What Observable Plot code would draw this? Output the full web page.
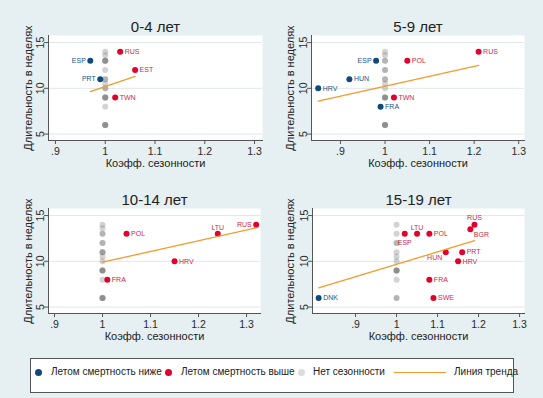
<!DOCTYPE html>
<html><head><meta charset="utf-8">
<script src="https://cdn.jsdelivr.net/npm/d3@7"></script>
<script src="https://cdn.jsdelivr.net/npm/@observablehq/plot@0.6"></script>
<style>
html,body{margin:0;padding:0;background:#e6eff1;}
#wrap{position:relative;width:543px;height:398px;overflow:hidden;font-family:"Liberation Sans",Arial,sans-serif;background:#e6eff1;}
.panel{position:absolute;}
.panel svg{overflow:visible;}
#legend{position:absolute;left:30px;top:358px;width:482px;height:33px;border:1px solid #555;background:#fff;}
#legend .it{position:absolute;top:13px;font-size:10px;line-height:10px;color:#222;transform:translateY(-50%);white-space:nowrap;}
#legend .dot{position:absolute;width:7px;height:7px;border-radius:50%;top:10px;}
#legend .ln{position:absolute;height:1.5px;top:12.5px;background:#f39a2a;}
</style></head><body><div id="wrap"></div>
<script>
// ---------- data ----------
const xTicks = [0.9, 1, 1.1, 1.2, 1.3];
const yTicks = [5, 10, 15];
const xTitle = "Коэфф. сезонности";
const yTitle = "Длительность в неделях";
const panelTitles = ["0-4 лет", "5-9 лет", "10-14 лет", "15-19 лет"];
const legendLabels = ["Летом смертность ниже", "Летом смертность выше", "Нет сезонности", "Линия тренда"];
const noSeasonCoef = 1;

// 0-4
const a0Countries = ["ESP", "PRT", "RUS", "EST", "TWN"];
const a0Coef = [0.97, 0.99, 1.03, 1.06, 1.02];
const a0Weeks = [13, 11, 14, 12, 9];
const a0Group = ["low", "low", "high", "high", "high"];
const a0NoSeason = [14, 13.6, 13, 13, 13, 13, 12, 11, 11, 10.5, 10, 10, 9, 9, 9, 9, 8, 6, 6, 6, 6];
const a0TrendCoef = [0.97, 1.06];
const a0TrendWeeks = [9.65, 11.3];

// 5-9
const a1Countries = ["HRV", "HUN", "ESP", "FRA", "TWN", "POL", "RUS"];
const a1Coef = [0.85, 0.92, 0.98, 0.99, 1.02, 1.05, 1.21];
const a1Weeks = [10, 11, 13, 8, 9, 13, 14];
const a1Group = ["low", "low", "low", "low", "high", "high", "high"];
const a1NoSeason = [14, 13.6, 13, 13, 12, 12, 11, 11, 10.5, 10, 9, 9, 9, 9, 6, 6, 6, 6];
const a1TrendCoef = [0.85, 1.21];
const a1TrendWeeks = [8.6, 12.5];

// 10-14
const a2Countries = ["FRA", "POL", "HRV", "LTU", "RUS"];
const a2Coef = [1.01, 1.05, 1.15, 1.24, 1.32];
const a2Weeks = [8, 13, 10, 13, 14];
const a2Group = ["high", "high", "high", "high", "high"];
const a2NoSeason = [14, 13.6, 13, 13, 12, 12, 11, 11, 11, 10.5, 10, 9, 9, 9, 9, 8, 6, 6, 6, 6];
const a2TrendCoef = [1.0, 1.32];
const a2TrendWeeks = [9.9, 13.65];

// 15-19
const a3Countries = ["DNK", "ESP", "LTU", "POL", "FRA", "SWE", "HUN", "HRV", "PRT", "BGR", "RUS"];
const a3Coef = [0.81, 1.02, 1.05, 1.08, 1.08, 1.09, 1.12, 1.15, 1.16, 1.18, 1.19];
const a3Weeks = [6, 13, 13, 13, 8, 6, 11, 10, 11, 13.5, 14];
const a3Group = ["low", "high", "high", "high", "high", "high", "high", "high", "high", "high", "high"];
const a3NoSeason = [14, 13, 12, 12, 11, 10.5, 10, 9, 9, 9, 9, 8, 6, 6];
const a3TrendCoef = [0.81, 1.19];
const a3TrendWeeks = [7.1, 12.25];

// ---------- styles / layout ----------
const colBlue = "#0f4a7a", colRed = "#e3002b", colGray = "#6e6e6e", colTrend = "#f39a2a";
const labBlue = "#1d5286", labRed = "#cc2a48";
const labelPos = {
  "0:ESP": "left", "0:PRT": "left",
  "1:ESP": "left",
  "2:LTU": "above", "2:RUS": "left",
  "3:LTU": "above", "3:RUS": "above", "3:ESP": "below", "3:BGR": "belowright", "3:HUN": "belowleft"
};
const posStyle = {
  right: {dx: 4.5, dy: 0, textAnchor: "start"},
  left: {dx: -4.5, dy: 0, textAnchor: "end"},
  above: {dx: 0, dy: -6.5, textAnchor: "middle"},
  below: {dx: 0, dy: 8.5, textAnchor: "middle"},
  belowright: {dx: 3.5, dy: 5.5, textAnchor: "start"},
  belowleft: {dx: -3.5, dy: 6, textAnchor: "end"}
};
const panels = [
  {key: 0, countries: a0Countries, coef: a0Coef, weeks: a0Weeks, group: a0Group, none: a0NoSeason, tc: a0TrendCoef, tw: a0TrendWeeks,
   left: 0, top: 0, width: 272, height: 180, mt: 35, mb: 40, ml: 48, mr: 10, xd: [0.886, 1.316], ytitDx: -17},
  {key: 1, countries: a1Countries, coef: a1Coef, weeks: a1Weeks, group: a1Group, none: a1NoSeason, tc: a1TrendCoef, tw: a1TrendWeeks,
   left: 272, top: 0, width: 271, height: 180, mt: 35, mb: 40, ml: 39, mr: 19, xd: [0.835, 1.313], ytitDx: -18},
  {key: 2, countries: a2Countries, coef: a2Coef, weeks: a2Weeks, group: a2Group, none: a2NoSeason, tc: a2TrendCoef, tw: a2TrendWeeks,
   left: 0, top: 180, width: 272, height: 170, mt: 28, mb: 37, ml: 48, mr: 12, xd: [0.8875, 1.329], ytitDx: -17},
  {key: 3, countries: a3Countries, coef: a3Coef, weeks: a3Weeks, group: a3Group, none: a3NoSeason, tc: a3TrendCoef, tw: a3TrendWeeks,
   left: 272, top: 180, width: 271, height: 170, mt: 28, mb: 37, ml: 40, mr: 19, xd: [0.795, 1.312], ytitDx: -19}
];
const yDomain = [4.3, 15.77];
const font = "Liberation Sans, Arial, sans-serif";
const wrap = document.getElementById("wrap");

for (const p of panels) {
  const pts = p.countries.map((c, i) => ({country: c, coef: p.coef[i], weeks: p.weeks[i], group: p.group[i],
    pos: labelPos[p.key + ":" + c] || "right"}));
  const none = p.none.map(w => ({coef: noSeasonCoef, weeks: w}));
  const trend = p.tc.map((x, i) => ({coef: x, weeks: p.tw[i]}));
  const labelMarks = Object.keys(posStyle).map(k => Plot.text(pts.filter(d => d.pos === k), {
    x: "coef", y: "weeks", text: "country", fontSize: 7, ...posStyle[k],
    fill: d => d.group === "low" ? labBlue : labRed
  }));
  const chart = Plot.plot({
    width: p.width, height: p.height,
    marginTop: p.mt, marginBottom: p.mb, marginLeft: p.ml, marginRight: p.mr,
    x: {domain: p.xd},
    y: {domain: yDomain},
    style: {background: "transparent", fontFamily: font, fontSize: "10.5px", color: "#2a2a2a", overflow: "visible"},
    marks: [
      Plot.frame({fill: "white", stroke: "none"}),
      Plot.gridY(yTicks, {stroke: "#dfe7eb", strokeOpacity: 1, strokeWidth: 1}),
      Plot.frame({anchor: "left", stroke: "#555"}),
      Plot.frame({anchor: "bottom", stroke: "#555"}),
      Plot.axisY({ticks: yTicks, tickSize: 4, tickRotate: -90, tickPadding: 1, label: null, stroke: "#555"}),
      Plot.axisX({ticks: xTicks, tickSize: 4, tickPadding: 3, label: null, stroke: "#555",
        tickFormat: d => String(d).replace(/^0\./, ".")}),
      Plot.text([p.key], {text: d => panelTitles[d], frameAnchor: "top", dy: -8, lineAnchor: "middle", textAnchor: "middle", fontSize: 15, fill: "#222"}),
      Plot.text([xTitle], {text: d => d, frameAnchor: "bottom", dy: 23, lineAnchor: "middle", textAnchor: "middle", fontSize: 11, fill: "#222"}),
      Plot.text([yTitle], {text: d => d, frameAnchor: "left", dx: p.ytitDx, rotate: -90, lineAnchor: "bottom", textAnchor: "middle", fontSize: 11, fill: "#222"}),
      Plot.dot(none, {x: "coef", y: "weeks", r: 3, fill: colGray, fillOpacity: 0.3, stroke: "none"}),
      Plot.dot(pts, {x: "coef", y: "weeks", r: 3, fill: d => d.group === "low" ? colBlue : colRed, stroke: "none"}),
      ...labelMarks,
      Plot.line(trend, {x: "coef", y: "weeks", stroke: colTrend, strokeWidth: 1.3})
    ]
  });
  const div = document.createElement("div");
  div.className = "panel";
  div.style.left = p.left + "px";
  div.style.top = p.top + "px";
  div.appendChild(chart);
  wrap.appendChild(div);
}

// legend
const lg = document.createElement("div");
lg.id = "legend";
const items = [
  {type: "dot", color: colBlue, x: 4, tx: 20},
  {type: "dot", color: colRed, x: 134, tx: 150},
  {type: "dot", color: "#dcdcdc", x: 267, tx: 282},
  {type: "line", color: colTrend, x: 363, w: 52, tx: 423}
];
items.forEach((it, i) => {
  if (it.type === "dot") {
    const d = document.createElement("div");
    d.className = "dot"; d.style.left = it.x + "px"; d.style.background = it.color;
    lg.appendChild(d);
  } else {
    const l = document.createElement("div");
    l.className = "ln"; l.style.left = it.x + "px"; l.style.width = it.w + "px";
    lg.appendChild(l);
  }
  const t = document.createElement("div");
  t.className = "it"; t.style.left = it.tx + "px"; t.textContent = legendLabels[i];
  lg.appendChild(t);
});
wrap.appendChild(lg);
</script></body></html>
